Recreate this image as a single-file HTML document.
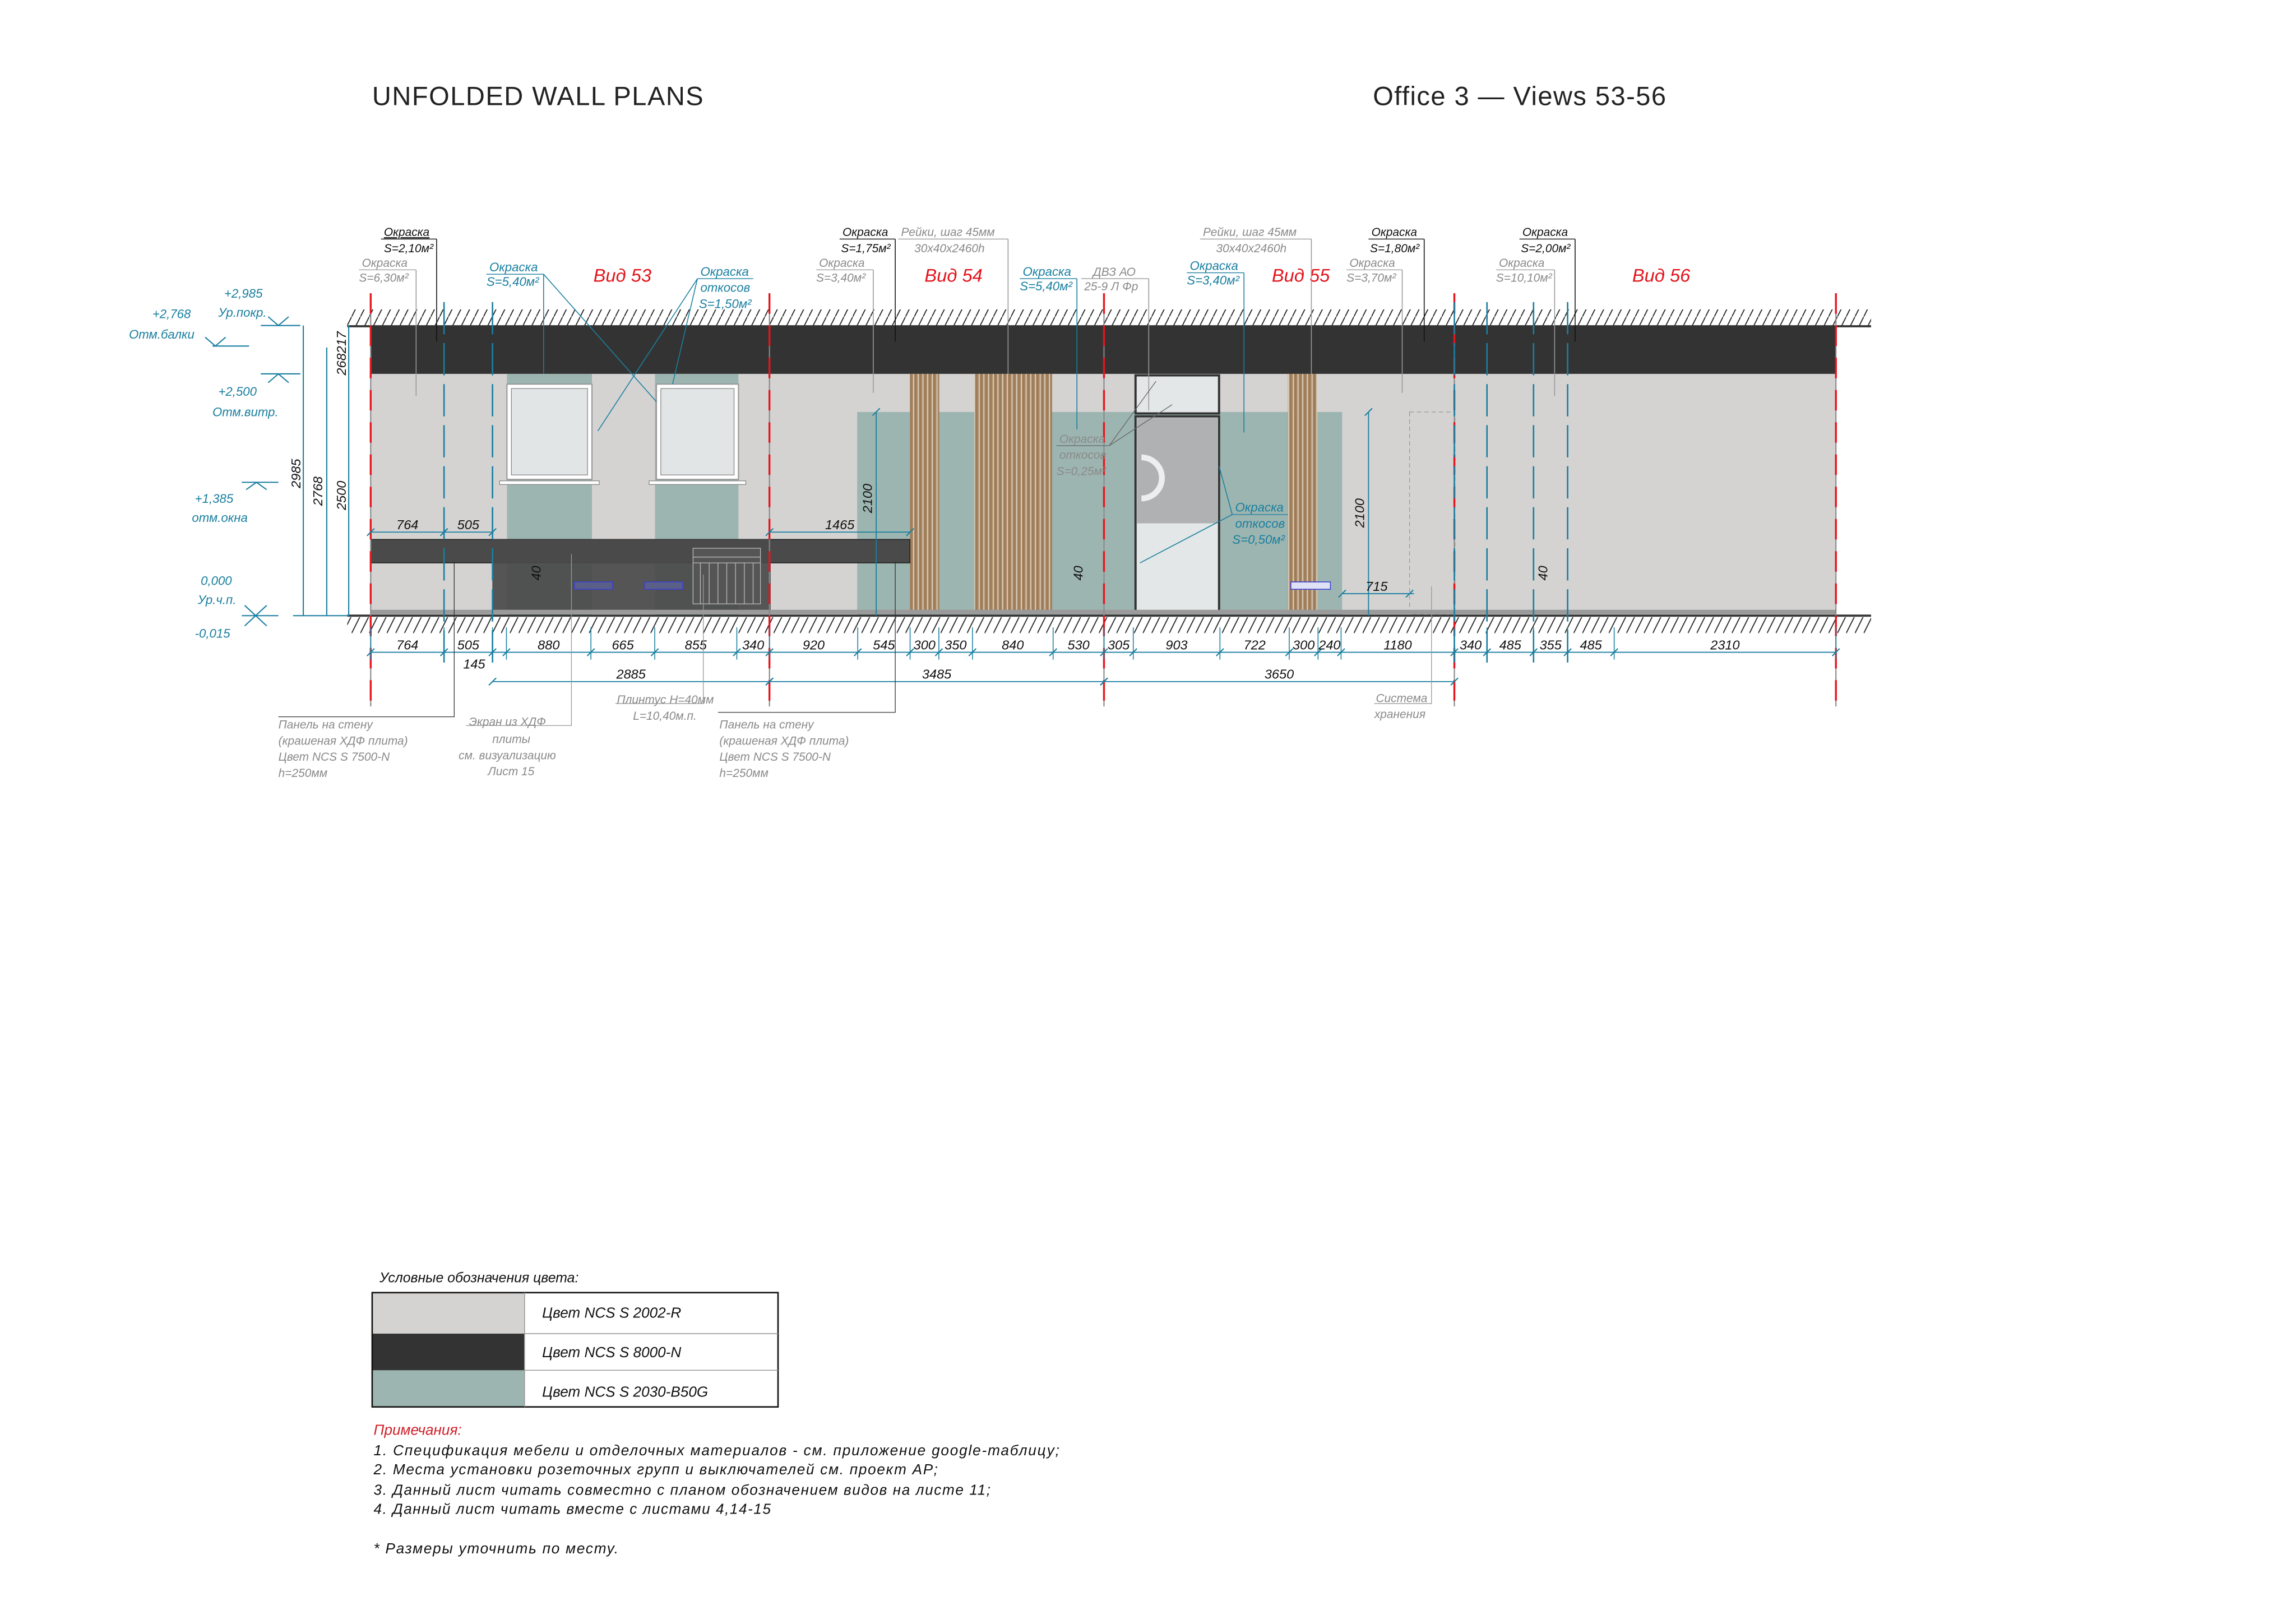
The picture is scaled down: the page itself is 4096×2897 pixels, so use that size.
<!DOCTYPE html>
<html><head><meta charset="utf-8">
<style>
html,body{margin:0;padding:0;background:#fff;}
svg{display:block;}
text{font-family:"Liberation Sans Narrow","Liberation Sans","DejaVu Sans",sans-serif;font-style:italic;}
.t{font-style:normal;font-family:"Liberation Sans",sans-serif;}
.g{fill:#8a8a8a;font-size:8px;}
.k{fill:#111;font-size:8px;}
.b{fill:#1a7fa0;font-size:8.5px;}
.r{fill:#e3141b;font-size:12.5px;}
.d{fill:#111;font-size:9px;}
</style></head>
<body>
<svg id="sheet" xmlns="http://www.w3.org/2000/svg" width="4096" height="2897" viewBox="0 0 1567 1108">
<defs>
<pattern id="hatch" patternUnits="userSpaceOnUse" width="6" height="12">
<line x1="0" y1="12" x2="6" y2="0" stroke="#222" stroke-width="0.7"/>
</pattern>
<pattern id="wood" patternUnits="userSpaceOnUse" width="3.2" height="20">
<rect width="3.2" height="20" fill="#a88763"/>
<rect x="2.4" width="0.6" height="20" fill="#e6dccd"/>
<rect x="0.8" width="0.4" height="20" fill="#8e6d4c"/>
</pattern>
</defs>
<rect width="1567" height="1108" fill="#fff"/>

<text class="t" x="254" y="71.5" font-size="18" textLength="226" fill="#222">UNFOLDED WALL PLANS</text>
<text class="t" x="937" y="71.5" font-size="18" textLength="200" fill="#222">Office 3 — Views 53-56</text>

<rect x="237" y="211" width="1040" height="11" fill="url(#hatch)"/>
<rect x="237" y="421" width="1040" height="11" fill="url(#hatch)"/>

<g id="wall">
<rect x="253" y="255" width="1000" height="165" fill="#d4d3d2"/>
<rect x="253" y="223" width="1000" height="32" fill="#333"/>
<rect x="346" y="255" width="58" height="165" fill="#9db5b0"/>
<rect x="447" y="255" width="57" height="165" fill="#9db5b0"/>
<rect x="346" y="262" width="58" height="65" fill="#fff" stroke="#999" stroke-width="0.8"/>
<rect x="349" y="265" width="52" height="59" fill="#e2e5e6" stroke="#888" stroke-width="0.5"/>
<rect x="341" y="328" width="68" height="2.5" fill="#fff" stroke="#888" stroke-width="0.5"/>
<rect x="448" y="262" width="56" height="65" fill="#fff" stroke="#999" stroke-width="0.8"/>
<rect x="451" y="265" width="50" height="59" fill="#e2e5e6" stroke="#888" stroke-width="0.5"/>
<rect x="443" y="328" width="66" height="2.5" fill="#fff" stroke="#888" stroke-width="0.5"/>
<rect x="585" y="281" width="168" height="139" fill="#9db5b0"/>
<rect x="621" y="255" width="20" height="163" fill="url(#wood)"/>
<rect x="665" y="255" width="53" height="163" fill="url(#wood)"/>
<rect x="253" y="368" width="368" height="16" fill="#4a4a4a" stroke="#222" stroke-width="0.6"/>
<rect x="336" y="368" width="190" height="51" fill="#4a4a4a" opacity="0.92"/>
<g stroke="#bbb" stroke-width="0.5" fill="#555">
<rect x="473" y="374" width="46" height="38"/>
<line x1="473" y1="380" x2="519" y2="380"/><line x1="473" y1="384" x2="519" y2="384"/>
<line x1="478" y1="384" x2="478" y2="412"/><line x1="484" y1="384" x2="484" y2="412"/><line x1="490" y1="384" x2="490" y2="412"/><line x1="496" y1="384" x2="496" y2="412"/><line x1="502" y1="384" x2="502" y2="412"/><line x1="508" y1="384" x2="508" y2="412"/><line x1="514" y1="384" x2="514" y2="412"/>
</g>
<rect x="392" y="397" width="26" height="5" fill="#5a5f88" stroke="#3b3fd0" stroke-width="0.6"/>
<rect x="440" y="397" width="26" height="5" fill="#5a5f88" stroke="#3b3fd0" stroke-width="0.6"/>
<rect x="753" y="281" width="163" height="139" fill="#9db5b0"/>
<rect x="775" y="256" width="57" height="26" fill="#e4e7e8" stroke="#333" stroke-width="1.5"/>
<rect x="775" y="284" width="57" height="134" fill="#e4e7e8" stroke="#333" stroke-width="1.5"/>
<rect x="776" y="285" width="55" height="72" fill="#b0b1b3"/>
<path d="M779 312 A14 14 0 1 1 779 340" fill="none" stroke="#eee" stroke-width="4"/>
<rect x="879" y="255" width="20" height="163" fill="url(#wood)"/>
<rect x="881" y="397" width="27" height="5" fill="#dfe1f5" stroke="#3b3fd0" stroke-width="0.6"/>
<rect x="962" y="281" width="31" height="138" fill="none" stroke="#999" stroke-width="0.5" stroke-dasharray="3 2"/>
<rect x="253" y="416" width="1000" height="3" fill="#9a9a9a"/>
<line x1="237" y1="222.5" x2="1277" y2="222.5" stroke="#333" stroke-width="1.4"/>
<line x1="237" y1="420" x2="1277" y2="420" stroke="#333" stroke-width="1.4"/>
</g>

<g id="vlines"></g>
<g id="dims"></g>

<g stroke="#1a7fa0" stroke-width="0.8" fill="none">
<line x1="178" y1="222" x2="205" y2="222"/><path d="M183 216 L190 222 L197 216"/>
<line x1="145" y1="236" x2="170" y2="236"/><path d="M140 230 L147 236 L154 230"/>
<line x1="178" y1="255" x2="205" y2="255"/><path d="M183 261 L190 255 L197 261"/>
<line x1="165" y1="329" x2="190" y2="329"/><path d="M168 334 L175 329 L182 334"/>
<line x1="165" y1="420" x2="190" y2="420"/><path d="M167 413 L182 427 M167 427 L182 413"/>
<line x1="207" y1="222" x2="207" y2="420"/><line x1="223" y1="237" x2="223" y2="420"/><line x1="238" y1="222" x2="238" y2="420"/>
<line x1="200" y1="420" x2="238" y2="420"/>
</g>
<g>
<text class="b" x="153" y="203" font-size="10">+2,985</text><text class="b" x="149" y="216" font-size="7.5">Ур.покр.</text>
<text class="b" x="104" y="217" font-size="10">+2,768</text><text class="b" x="88" y="231" font-size="7.5">Отм.балки</text>
<text class="b" x="149" y="270" font-size="10">+2,500</text><text class="b" x="145" y="284" font-size="7.5">Отм.витр.</text>
<text class="b" x="133" y="343" font-size="10">+1,385</text><text class="b" x="131" y="356" font-size="7.5">отм.окна</text>
<text class="b" x="137" y="399" font-size="10">0,000</text><text class="b" x="135" y="412" font-size="7.5">Ур.ч.п.</text>
<text class="b" x="133" y="435" font-size="10">-0,015</text>
<text class="d" transform="translate(205,333) rotate(-90)">2985</text>
<text class="d" transform="translate(220,345) rotate(-90)">2768</text>
<text class="d" transform="translate(236,348) rotate(-90)">2500</text>
<text class="d" transform="translate(236,256) rotate(-90)">268217</text>
</g>

<text class="r" x="405" y="192">Вид 53</text>
<text class="r" x="631" y="192">Вид 54</text>
<text class="r" x="868" y="192">Вид 55</text>
<text class="r" x="1114" y="192">Вид 56</text>

<g>
<g><text class="k" x="262" y="161" text-decoration="underline">Окраска</text><text class="k" x="262" y="172">S=2,10м²</text><line x1="260" y1="163" x2="298" y2="163" stroke="#111" stroke-width="0.5"/><line x1="298" y1="163" x2="298" y2="233" stroke="#111" stroke-width="0.6"/></g>
<g><text class="g" x="247" y="182">Окраска</text><text class="g" x="245" y="192">S=6,30м²</text><line x1="245" y1="184" x2="284" y2="184" stroke="#999" stroke-width="0.5"/><line x1="284" y1="184" x2="284" y2="270" stroke="#999" stroke-width="0.6"/></g>
<g><text class="b" x="334" y="185">Окраска</text><text class="b" x="332" y="195">S=5,40м²</text><line x1="332" y1="187" x2="371" y2="187" stroke="#1a7fa0" stroke-width="0.5"/><line x1="371" y1="187" x2="371" y2="255" stroke="#1a7fa0" stroke-width="0.6"/><line x1="371" y1="187" x2="448" y2="274" stroke="#1a7fa0" stroke-width="0.6"/></g>
<g><text class="b" x="478" y="188">Окраска</text><text class="b" x="478" y="199">откосов</text><text class="b" x="477" y="210">S=1,50м²</text><line x1="476" y1="190" x2="514" y2="190" stroke="#1a7fa0" stroke-width="0.5"/><line x1="476" y1="190" x2="408" y2="294" stroke="#1a7fa0" stroke-width="0.6"/><line x1="476" y1="190" x2="459" y2="262" stroke="#1a7fa0" stroke-width="0.6"/></g>
<g><text class="k" x="575" y="161">Окраска</text><text class="k" x="574" y="172">S=1,75м²</text><line x1="573" y1="163" x2="611" y2="163" stroke="#111" stroke-width="0.5"/><line x1="611" y1="163" x2="611" y2="233" stroke="#111" stroke-width="0.6"/></g>
<g><text class="g" x="615" y="161">Рейки, шаг 45мм</text><text class="g" x="624" y="172">30x40x2460h</text><line x1="613" y1="163" x2="688" y2="163" stroke="#999" stroke-width="0.5"/><line x1="688" y1="163" x2="688" y2="255" stroke="#999" stroke-width="0.6"/></g>
<g><text class="g" x="559" y="182">Окраска</text><text class="g" x="557" y="192">S=3,40м²</text><line x1="557" y1="184" x2="596" y2="184" stroke="#999" stroke-width="0.5"/><line x1="596" y1="184" x2="596" y2="268" stroke="#999" stroke-width="0.6"/></g>
<g><text class="b" x="698" y="188">Окраска</text><text class="b" x="696" y="198">S=5,40м²</text><line x1="696" y1="190" x2="735" y2="190" stroke="#1a7fa0" stroke-width="0.5"/><line x1="735" y1="190" x2="735" y2="293" stroke="#1a7fa0" stroke-width="0.6"/></g>
<g><text class="g" x="746" y="188">ДВЗ АО</text><text class="g" x="740" y="198">25-9 Л Фр</text><line x1="738" y1="190" x2="784" y2="190" stroke="#999" stroke-width="0.5"/><line x1="784" y1="190" x2="784" y2="280" stroke="#999" stroke-width="0.6"/></g>
<g><text class="g" x="821" y="161">Рейки, шаг 45мм</text><text class="g" x="830" y="172">30x40x2460h</text><line x1="819" y1="163" x2="895" y2="163" stroke="#999" stroke-width="0.5"/><line x1="895" y1="163" x2="895" y2="255" stroke="#999" stroke-width="0.6"/></g>
<g><text class="b" x="812" y="184">Окраска</text><text class="b" x="810" y="194">S=3,40м²</text><line x1="810" y1="186" x2="849" y2="186" stroke="#1a7fa0" stroke-width="0.5"/><line x1="849" y1="186" x2="849" y2="295" stroke="#1a7fa0" stroke-width="0.6"/></g>
<g><text class="k" x="936" y="161">Окраска</text><text class="k" x="935" y="172">S=1,80м²</text><line x1="934" y1="163" x2="972" y2="163" stroke="#111" stroke-width="0.5"/><line x1="972" y1="163" x2="972" y2="233" stroke="#111" stroke-width="0.6"/></g>
<g><text class="g" x="921" y="182">Окраска</text><text class="g" x="919" y="192">S=3,70м²</text><line x1="919" y1="184" x2="957" y2="184" stroke="#999" stroke-width="0.5"/><line x1="957" y1="184" x2="957" y2="268" stroke="#999" stroke-width="0.6"/></g>
<g><text class="k" x="1039" y="161">Окраска</text><text class="k" x="1038" y="172">S=2,00м²</text><line x1="1037" y1="163" x2="1075" y2="163" stroke="#111" stroke-width="0.5"/><line x1="1075" y1="163" x2="1075" y2="233" stroke="#111" stroke-width="0.6"/></g>
<g><text class="g" x="1023" y="182">Окраска</text><text class="g" x="1021" y="192">S=10,10м²</text><line x1="1021" y1="184" x2="1061" y2="184" stroke="#999" stroke-width="0.5"/><line x1="1061" y1="184" x2="1061" y2="270" stroke="#999" stroke-width="0.6"/></g>
<g><text class="g" x="723" y="302" fill="#555">Окраска</text><text class="g" x="723" y="313" fill="#555">откосов</text><text class="g" x="721" y="324" fill="#555">S=0,25м²</text><line x1="721" y1="304" x2="757" y2="304" stroke="#666" stroke-width="0.5"/><line x1="757" y1="304" x2="789" y2="260" stroke="#666" stroke-width="0.5"/><line x1="757" y1="304" x2="800" y2="276" stroke="#666" stroke-width="0.5"/></g>
<g><text class="b" x="843" y="349">Окраска</text><text class="b" x="843" y="360">откосов</text><text class="b" x="841" y="371">S=0,50м²</text><line x1="841" y1="351" x2="879" y2="351" stroke="#1a7fa0" stroke-width="0.5"/><line x1="841" y1="351" x2="778" y2="384" stroke="#1a7fa0" stroke-width="0.6"/><line x1="841" y1="351" x2="832" y2="318" stroke="#1a7fa0" stroke-width="0.6"/></g>
</g>

<g>
<polyline points="190,489 310,489 310,383" fill="none" stroke="#333" stroke-width="0.5"/>
<text class="g" x="190" y="497">Панель на стену</text><text class="g" x="190" y="508">(крашеная ХДФ плита)</text><text class="g" x="190" y="519">Цвет NCS S 7500-N</text><text class="g" x="190" y="530">h=250мм</text>
<polyline points="318,495 390,495 390,378" fill="none" stroke="#999" stroke-width="0.5"/>
<text class="g" x="320" y="495">Экран из ХДФ</text><text class="g" x="336" y="507">плиты</text><text class="g" x="313" y="518">см. визуализацию</text><text class="g" x="333" y="529">Лист 15</text>
<polyline points="420,480 480,480 480,392" fill="none" stroke="#999" stroke-width="0.5"/>
<text class="g" x="421" y="480">Плинтус Н=40мм</text><text class="g" x="432" y="491">L=10,40м.п.</text>
<polyline points="490,486 611,486 611,383" fill="none" stroke="#333" stroke-width="0.5"/>
<text class="g" x="491" y="497">Панель на стену</text><text class="g" x="491" y="508">(крашеная ХДФ плита)</text><text class="g" x="491" y="519">Цвет NCS S 7500-N</text><text class="g" x="491" y="530">h=250мм</text>
<polyline points="938,480 977,480 977,400" fill="none" stroke="#999" stroke-width="0.5"/>
<text class="g" x="939" y="479">Система</text><text class="g" x="938" y="490">хранения</text>
</g>

<g>
<text x="259" y="875" font-size="9.5" fill="#111">Условные обозначения цвета:</text>
<rect x="254" y="882" width="104" height="28" fill="#d4d3d2"/>
<rect x="254" y="910" width="104" height="25" fill="#333"/>
<rect x="254" y="935" width="104" height="25" fill="#9db5b0"/>
<rect x="254" y="882" width="277" height="78" fill="none" stroke="#111" stroke-width="1"/>
<line x1="358" y1="882" x2="358" y2="960" stroke="#999" stroke-width="0.6"/>
<line x1="358" y1="910" x2="531" y2="910" stroke="#999" stroke-width="0.6"/>
<line x1="358" y1="935" x2="531" y2="935" stroke="#999" stroke-width="0.6"/>
<text x="370" y="899" font-size="10" fill="#111">Цвет NCS S 2002-R</text>
<text x="370" y="926" font-size="10" fill="#111">Цвет NCS S 8000-N</text>
<text x="370" y="953" font-size="10" fill="#111">Цвет NCS S 2030-B50G</text>
</g>
<g>
<text x="255" y="979" font-size="10" fill="#d0202a">Примечания:</text>
<text x="255" y="993" font-size="10" fill="#111" textLength="468">1. Спецификация мебели и отделочных материалов -  см. приложение google-таблицу;</text>
<text x="255" y="1006" font-size="10" fill="#111" textLength="385">2. Места установки розеточных групп и выключателей см. проект АР;</text>
<text x="255" y="1020" font-size="10" fill="#111" textLength="421">3. Данный лист читать совместно с планом обозначением видов на листе 11;</text>
<text x="255" y="1033" font-size="10" fill="#111" textLength="271">4. Данный лист читать вместе с листами 4,14-15</text>
<text x="255" y="1060" font-size="10" fill="#111" textLength="167">* Размеры уточнить по месту.</text>
</g>
</svg>

<script>
const segmentsMm = [764,505,145,880,665,855,340,920,545,300,350,840,530,305,903,722,300,240,1180,340,485,355,485,2310];
const segmentLabels = ["764","505","145","880","665","855","340","920","545","300","350","840","530","305","903","722","300","240","1180","340","485","355","485","2310"];
const totalsMm = [2885,3485,3650];
const totalsStartMm = 1269;
const viewLengthsMm = [4154,3485,3650,3975];
const upperDimsMm = [764,505];
const upperDim54Mm = [1465];

const NS = "http://www.w3.org/2000/svg";
const X0 = 253, KX = 1000/15264;
function xs(mm){ return X0 + mm*KX; }
const dims = document.getElementById('dims');
const vl = document.getElementById('vlines');
function mk(tag, attrs, parent){
  const e = document.createElementNS(NS, tag);
  for (const k in attrs) e.setAttribute(k, attrs[k]);
  parent.appendChild(e); return e;
}
function tick(x, y, p){
  const t = mk('line', {x1:x-2.5, y1:y+2.5, x2:x+2.5, y2:y-2.5, stroke:'#1a7fa0','stroke-width':0.8}, p);
  
  
}
let acc = 0;
const bounds = [0];
viewLengthsMm.forEach(v => { acc += v; bounds.push(acc); });
bounds.forEach(b => {
  const x = xs(b);
  const g = mk('line', {x1:x, y1:200, x2:x, y2:482, stroke:'#888','stroke-width':0.8}, vl);
  
  
  const r = mk('line', {x1:x, y1:200, x2:x, y2:482, stroke:'#e8141c','stroke-width':1.3,'stroke-dasharray':'14 8'}, vl);
  
  
});
const breakIdx = [1,2,19,20,21,22];
let cum = [0];
segmentsMm.forEach(s => cum.push(cum[cum.length-1]+s));
breakIdx.forEach(i => {
  const x = xs(cum[i]);
  const l = mk('line', {x1:x, y1:206, x2:x, y2:452, stroke:'#1a7fa0','stroke-width':1,'stroke-dasharray':'22 6'}, vl);
  
  
});
const yRow = 445;
const chain = mk('line', {x1:xs(0), y1:yRow, x2:xs(cum[cum.length-1]), y2:yRow, stroke:'#1a7fa0','stroke-width':0.7}, dims);


cum.forEach((c, i) => {
  const x = xs(c);
  const ext = mk('line', {x1:x, y1:428, x2:x, y2:450, stroke:'#1a7fa0','stroke-width':0.6}, dims);
  
  
  tick(x, yRow, dims);
});
segmentsMm.forEach((s, i) => {
  const mid = xs(cum[i] + s/2);
  const isSmall = (i === 2);
  const t = mk('text', {x: isSmall ? xs(cum[i]) - 20 : mid, y: isSmall ? 456 : 443, 'text-anchor': isSmall ? 'start' : 'middle', class:'d'}, dims);
  t.textContent = segmentLabels[i];
  
  
});
let tc = totalsStartMm;
totalsMm.forEach(v => {
  const x1 = xs(tc), x2 = xs(tc+v);
  const l = mk('line', {x1:x1, y1:465, x2:x2, y2:465, stroke:'#1a7fa0','stroke-width':0.7}, dims);
  
  
  tick(x1, 465, dims); tick(x2, 465, dims);
  const t = mk('text', {x:(x1+x2)/2, y:463, 'text-anchor':'middle', class:'d'}, dims);
  t.textContent = String(v);
  
  
  tc += v;
});
let uc = 0;
const uy = 363;
upperDimsMm.forEach(v => {
  const x1 = xs(uc), x2 = xs(uc+v);
  const l = mk('line', {x1:x1, y1:uy, x2:x2, y2:uy, stroke:'#1a7fa0','stroke-width':0.7}, dims);
  
  
  tick(x1, uy, dims); tick(x2, uy, dims);
  const t = mk('text', {x:(x1+x2)/2, y:uy-2, 'text-anchor':'middle', class:'d'}, dims);
  t.textContent = String(v);
  
  
  uc += v;
});
const s54 = viewLengthsMm[0];
upperDim54Mm.forEach(v => {
  const x1 = xs(s54), x2 = xs(s54+v);
  const l = mk('line', {x1:x1, y1:uy, x2:x2, y2:uy, stroke:'#1a7fa0','stroke-width':0.7}, dims);
  
  
  tick(x1, uy, dims); tick(x2, uy, dims);
  const t = mk('text', {x:(x1+x2)/2, y:uy-2, 'text-anchor':'middle', class:'d'}, dims);
  t.textContent = String(v);
  
  
});
const vdims = [[598,281,420,'2100',595,350],[934,281,420,'2100',931,360]];
vdims.forEach(d => {
  const l = mk('line', {x1:d[0], y1:d[1], x2:d[0], y2:d[2], stroke:'#1a7fa0','stroke-width':0.7}, dims);
  
  
  tick(d[0], d[1], dims);
  const t = mk('text', {transform:'translate('+d[4]+','+d[5]+') rotate(-90)', class:'d'}, dims);
  t.textContent = d[3];
  
  
});
const w715 = mk('line', {x1:916, y1:405, x2:965, y2:405, stroke:'#1a7fa0','stroke-width':0.7}, dims);


tick(916,405,dims); tick(962,405,dims);
const t715 = mk('text', {x:932, y:403, class:'d'}, dims);
t715.textContent = '715';


[[369,396],[739,396],[1056,396]].forEach(p => {
  const t = mk('text', {transform:'translate('+p[0]+','+p[1]+') rotate(-90)', class:'d', 'font-size':8}, dims);
  t.textContent = '40';
  
  
});
</script>
</body></html>
